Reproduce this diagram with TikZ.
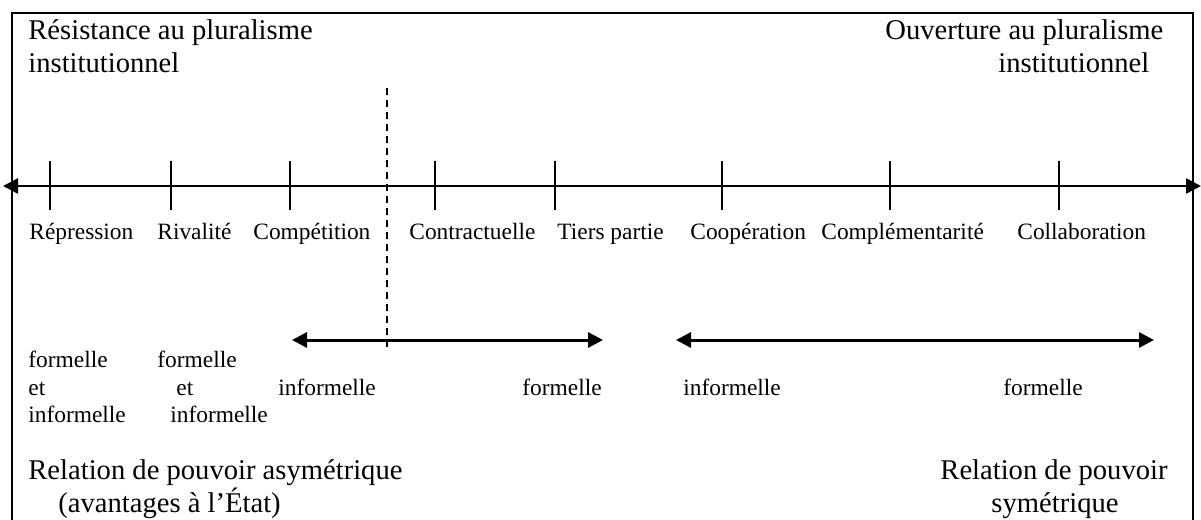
\documentclass[tikz,border=0pt]{standalone}
\usepackage{fontspec}
\setmainfont{Liberation Serif}
\usetikzlibrary{arrows.meta}

\tikzset{
  frameline/.style={line width=1.25pt},
  axisline/.style={line width=1.25pt, {Triangle[length=7.5pt,width=7.5pt]}-{Triangle[length=7.5pt,width=7.5pt]}},
  spanline/.style={line width=1.5pt, {Triangle[length=7.5pt,width=7.5pt]}-{Triangle[length=7.5pt,width=7.5pt]}},
  tickline/.style={line width=1pt},
  divider/.style={line width=0.7pt, dash pattern=on 3.5pt off 2.5pt},
  bigtext/.style={anchor=base west, inner sep=0pt, font=\fontsize{14.3pt}{16.5pt}\selectfont},
  smalltext/.style={anchor=base west, inner sep=0pt, font=\fontsize{11.7pt}{13.5pt}\selectfont},
  bigcentre/.style={anchor=base, inner sep=0pt, font=\fontsize{14.3pt}{16.5pt}\selectfont},
}

\begin{document}
\begin{tikzpicture}[x=0.5pt, y=-0.5pt]
  \useasboundingbox (0,0) rectangle (1201,520);

  % open frame (no bottom edge)
  \draw[frameline] (12,520) -- (12,13) -- (1193,13) -- (1193,520);

  % headings
  \node[bigtext] (resist1) at (28,39) {Résistance au pluralisme};
  \node[bigtext] (resist2) at (28,72) {institutionnel};
  \node[bigtext] (ouvert1) at (885,39) {Ouverture au pluralisme};
  \node[bigtext] (ouvert2) at (998,72) {institutionnel};

  % main axis
  \coordinate (axL) at (3,186);
  \coordinate (axR) at (1201,186);
  \draw[axisline] (axL) -- (axR);

  % ticks
  \foreach \tx/\tn in {50/t1,171/t2,290/t3,435/t4,555/t5,722/t6,890/t7,1059/t8}{
    \coordinate (\tn top) at (\tx,161);
    \coordinate (\tn bot) at (\tx,210);
    \draw[tickline] (\tn top) -- (\tn bot);
  }

  % dividing dashed line
  \coordinate (dvT) at (387,88);
  \coordinate (dvB) at (387,349);
  \draw[divider] (dvT) -- (dvB);

  % relation types
  \node[smalltext] (repression)  at (29,239)  {Répression};
  \node[smalltext] (rivalite)    at (157,239) {Rivalité};
  \node[smalltext] (competition) at (253,239) {Compétition};
  \node[smalltext] (contract)    at (409,239) {Contractuelle};
  \node[smalltext] (tiers)       at (557,239) {Tiers partie};
  \node[smalltext] (cooperation) at (690,239) {Coopération};
  \node[smalltext] (complement)  at (821,239) {Complémentarité};
  \node[smalltext] (collab)      at (1017,239) {Collaboration};

  % range arrows
  \coordinate (r1L) at (292,340);
  \coordinate (r1R) at (603,340);
  \coordinate (r2L) at (676,340);
  \coordinate (r2R) at (1154,340);
  \draw[spanline] (r1L) -- (r1R);
  \draw[spanline] (r2L) -- (r2R);

  % formality labels
  \node[smalltext] (fa1) at (28,367)  {formelle};
  \node[smalltext] (fa2) at (28,395)  {et};
  \node[smalltext] (fa3) at (28,422)  {informelle};
  \node[smalltext] (fb1) at (157,367) {formelle};
  \node[smalltext] (fb2) at (176,395) {et};
  \node[smalltext] (fb3) at (170,422) {informelle};
  \node[smalltext] (fc)  at (278,395) {informelle};
  \node[smalltext] (fd)  at (522,395) {formelle};
  \node[smalltext] (fe)  at (683,395) {informelle};
  \node[smalltext] (ff)  at (1003,395) {formelle};

  % power relations
  \node[bigtext] (asym1) at (28,479) {Relation de pouvoir asymétrique};
  \node[bigtext] (asym2) at (58,512) {(avantages à l’État)};
  \node[bigcentre] (sym1) at (1054,479) {Relation de pouvoir};
  \node[bigcentre] (sym2) at (1055,512) {symétrique};
\end{tikzpicture}
\end{document}
